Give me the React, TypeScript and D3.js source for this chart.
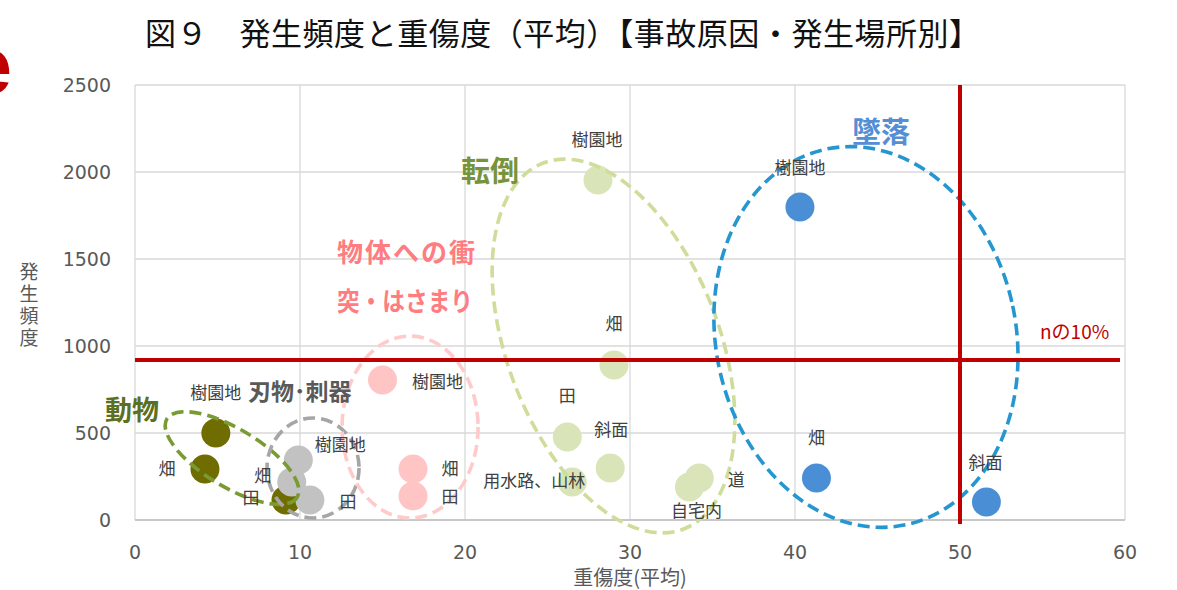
import React from "react";
import * as d3 from "d3";

const W = 1177;
const H = 590;

// ---- data (x = 重傷度(平均), y = 発生頻度) ----
const animalX = [4.9, 4.24, 9.15];
const animalY = [500, 293, 115];
const animalLabels = ["樹園地", "畑", "田"];

const bladeX = [9.9, 9.5, 10.6];
const bladeY = [345, 218, 115];
const bladeLabels = ["樹園地", "畑", "田"];

const impactX = [15.0, 16.85, 16.85];
const impactY = [805, 293, 138];
const impactLabels = ["樹園地", "畑", "田"];

const falloverX = [28.06, 29.03, 26.2, 28.8, 26.5, 34.2, 33.6];
const falloverY = [1954, 891, 477, 299, 218, 241, 190];
const falloverLabels = ["樹園地", "畑", "田", "斜面", "用水路、山林", "道", "自宅内"];

const fallX = [40.3, 41.3, 51.6];
const fallY = [1799, 241, 103];
const fallLabels = ["樹園地", "畑", "斜面"];

const xTicks = [0, 10, 20, 30, 40, 50, 60];
const yTicks = [0, 500, 1000, 1500, 2000, 2500];

const thresholdY = 920; // nの10%
const thresholdX = 50;

const title = "図９　発生頻度と重傷度（平均）【事故原因・発生場所別】";

// label offsets (px) relative to each point
const animalOff = [[0, -40], [-38, 0], [-35, -2]];
const bladeOff = [[42, -15], [-29, -6], [38, 2]];
const impactOff = [[55, 2], [37, 0], [37, 1]];
const falloverOff = [[-1, -40], [0, -41], [0, -41], [1, -38], [-38, -1], [37, 2], [7, 24]];
const fallOff = [[0, -39], [0, -40], [-1, -39]];

export default function App() {
  const x = d3.scaleLinear().domain([0, 60]).range([135, 1125]);
  const y = d3.scaleLinear().domain([0, 2500]).range([520, 85]);

  const groups = [
    { xs: animalX, ys: animalY, labels: animalLabels, off: animalOff, fill: "#6f6c00" },
    { xs: bladeX, ys: bladeY, labels: bladeLabels, off: bladeOff, fill: "#c2c2c2" },
    { xs: impactX, ys: impactY, labels: impactLabels, off: impactOff, fill: "#ffc5c5" },
    { xs: falloverX, ys: falloverY, labels: falloverLabels, off: falloverOff, fill: "#d9e5b8" },
    { xs: fallX, ys: fallY, labels: fallLabels, off: fallOff, fill: "#4a8fd6" },
  ];

  // enclosing ellipses: center in data units, radii px, rotation deg
  const ellipses = [
    { cx: 5.88, cy: 356, rx: 76, ry: 29, rot: 31, stroke: "#7a9a32" },
    { cx: 10.79, cy: 299, rx: 46, ry: 50, rot: 0, stroke: "#a6a6a6" },
    { cx: 16.67, cy: 534, rx: 68, ry: 91, rot: 0, stroke: "#ffcaca" },
    { cx: 29.0, cy: 1000, rx: 106, ry: 196, rot: -21, stroke: "#cfdd9a" },
    { cx: 44.3, cy: 1052, rx: 150, ry: 192, rot: -12, stroke: "#2596d0" },
  ];

  const numFont = "'DejaVu Sans', Verdana, sans-serif";
  const jpFont = "'Noto Sans CJK JP', 'Noto Sans', sans-serif";

  return (
    <svg width={W} height={H} style={{ position: "absolute", left: 0, top: 0, background: "#fff" }}>
      <rect width={W} height={H} fill="#fff" />
      {/* cut-off red letter */}
      <text x={12} y={93} textAnchor="end" fontFamily="'Liberation Sans', Arial, sans-serif" fontWeight="bold" fontSize={80} fill="#c00000">e</text>

      {/* title */}
      <text x={145} y={45} fontFamily={jpFont} fontSize={31} fill="#111" textLength={835} lengthAdjust="spacing">{title}</text>

      {/* grid */}
      {xTicks.map((t) => (
        <line key={"gx" + t} x1={x(t)} x2={x(t)} y1={y(2500)} y2={y(0)} stroke="#d9d9d9" strokeWidth={1.3} />
      ))}
      {yTicks.map((t) => (
        <line key={"gy" + t} x1={x(0)} x2={x(60)} y1={y(t)} y2={y(t)} stroke="#d9d9d9" strokeWidth={1.3} />
      ))}
      <line x1={x(0)} x2={x(60)} y1={y(0)} y2={y(0)} stroke="#bfbfbf" strokeWidth={1.5} />

      {/* tick labels */}
      {yTicks.map((t) => (
        <text key={"ty" + t} x={111} y={y(t)} dy="0.36em" textAnchor="end" fontFamily={numFont} fontSize={19} fill="#595959">{t}</text>
      ))}
      {xTicks.map((t) => (
        <text key={"tx" + t} x={x(t)} y={552} dy="0.36em" textAnchor="middle" fontFamily={numFont} fontSize={19} fill="#595959">{t}</text>
      ))}

      {/* axis titles */}
      <text x={630} y={578} dy="0.36em" textAnchor="middle" fontFamily={jpFont} fontSize={20} fill="#595959">重傷度(平均)</text>
      <text
        x={29}
        y={262}
        fontFamily={jpFont}
        fontSize={19}
        fill="#595959"
        style={{ writingMode: "vertical-rl", letterSpacing: "3px" } as any}
      >
        発生頻度
      </text>

      {/* points */}
      {groups.map((g, gi) =>
        g.xs.map((v, i) => (
          <circle key={"p" + gi + "-" + i} cx={x(v)} cy={y(g.ys[i])} r={14.5} fill={g.fill} />
        ))
      )}

      {/* ellipses */}
      {ellipses.map((e, i) => (
        <ellipse
          key={"e" + i}
          cx={0}
          cy={0}
          rx={e.rx}
          ry={e.ry}
          transform={`translate(${x(e.cx)},${y(e.cy)}) rotate(${e.rot})`}
          fill="none"
          stroke={e.stroke}
          strokeWidth={3.6}
          strokeDasharray="12 6"
        />
      ))}

      {/* point labels */}
      {groups.map((g, gi) =>
        g.labels.map((l, i) => (
          <text
            key={"l" + gi + "-" + i}
            x={x(g.xs[i]) + g.off[i][0]}
            y={y(g.ys[i]) + g.off[i][1]}
            dy="0.36em"
            textAnchor="middle"
            fontFamily={jpFont}
            fontSize={17}
            fill="#404040"
          >
            {l}
          </text>
        ))
      )}

      {/* threshold lines */}
      <line x1={x(0)} x2={1120} y1={y(thresholdY)} y2={y(thresholdY)} stroke="#c00000" strokeWidth={4} />
      <line x1={x(thresholdX)} x2={x(thresholdX)} y1={y(2500)} y2={524} stroke="#c00000" strokeWidth={4} />
      <text x={1040} y={332} dy="0.36em" textAnchor="start" fontFamily={jpFont} fontSize={19} fill="#c00000">nの10%</text>

      {/* group labels */}
      <text x={105} y={410} dy="0.36em" fontFamily={jpFont} fontWeight="bold" fontSize={27} fill="#5b7021">動物</text>
      <text x={248} y={392} dy="0.36em" fontFamily={jpFont} fontWeight="bold" fontSize={23} fill="#595959">刃物･刺器</text>
      <text x={337} y={253} dy="0.36em" fontFamily={jpFont} fontWeight="bold" fontSize={26} fill="#ff7c80" textLength={138} lengthAdjust="spacing">物体への衝</text>
      <text x={337} y={302} dy="0.36em" fontFamily={jpFont} fontWeight="bold" fontSize={26} fill="#ff7c80" textLength={136} lengthAdjust="spacingAndGlyphs">突・はさまり</text>
      <text x={461} y={172} dy="0.36em" fontFamily={jpFont} fontWeight="bold" fontSize={29} fill="#77933c">転倒</text>
      <text x={852} y={133} dy="0.36em" fontFamily={jpFont} fontWeight="bold" fontSize={29} fill="#558ed5">墜落</text>
    </svg>
  );
}
